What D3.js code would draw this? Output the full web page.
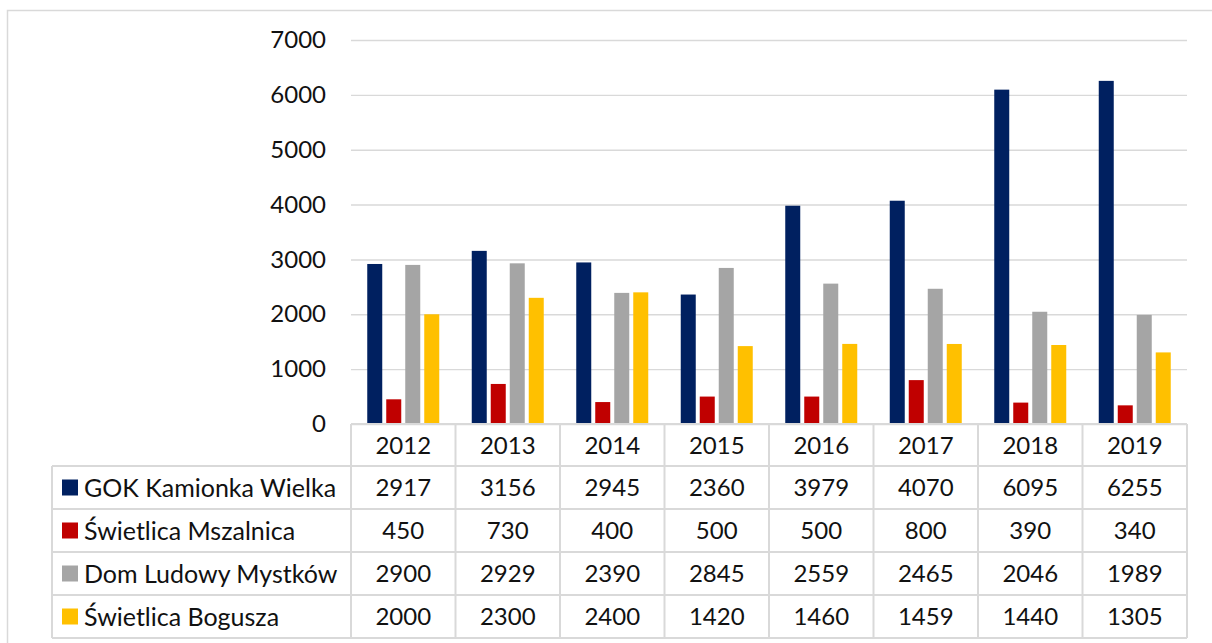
<!DOCTYPE html>
<html>
<head>
<meta charset="utf-8">
<script src="https://cdn.jsdelivr.net/npm/d3@7"></script>
<style>
  body { margin: 0; background: #fff; }
  svg { display: block; font-family: Lato, "Open Sans", sans-serif; }
</style>
</head>
<body>
<div id="chart"></div>
<script>
const years = ['2012', '2013', '2014', '2015', '2016', '2017', '2018', '2019'];
const seriesNames = ['GOK Kamionka Wielka', 'Świetlica Mszalnica', 'Dom Ludowy Mystków', 'Świetlica Bogusza'];
const seriesColors = ['#002060', '#c00000', '#a5a5a5', '#ffc000'];
const gokValues = [2917, 3156, 2945, 2360, 3979, 4070, 6095, 6255];
const mszalnicaValues = [450, 730, 400, 500, 500, 800, 390, 340];
const mystkowValues = [2900, 2929, 2390, 2845, 2559, 2465, 2046, 1989];
const boguszaValues = [2000, 2300, 2400, 1420, 1460, 1459, 1440, 1305];
const yTicks = [0, 1000, 2000, 3000, 4000, 5000, 6000, 7000];

const allValues = [gokValues, mszalnicaValues, mystkowValues, boguszaValues];

const W = 1212, H = 643;
const plotLeft = 351, plotRight = 1187, plotTop = 40, plotBottom = 424;
const tableLeft = 52, headerH = 42, rowH = 43;
const gridColor = '#d9d9d9';

const svg = d3.select('#chart').append('svg')
  .attr('width', W)
  .attr('height', H);

// outer chart frame
svg.append('rect')
  .attr('x', 7.5).attr('y', 10.5)
  .attr('width', W + 20).attr('height', H + 20)
  .attr('fill', 'none')
  .attr('stroke', gridColor)
  .attr('stroke-width', 1.5);

const x = d3.scaleBand().domain(years).range([plotLeft, plotRight]);
const groupW = 72;
const x1 = d3.scaleBand()
  .domain(d3.range(seriesNames.length))
  .range([0, groupW])
  .paddingInner(4 / 19);
const y = d3.scaleLinear().domain([0, 7000]).range([plotBottom, plotTop]);

// gridlines + y axis labels
const yAxis = d3.axisLeft(y)
  .tickValues(yTicks)
  .tickSize(-(plotRight - plotLeft))
  .tickPadding(25)
  .tickFormat(d3.format('d'));

const gy = svg.append('g')
  .attr('transform', `translate(${plotLeft},0)`)
  .call(yAxis);
gy.select('.domain').remove();
gy.selectAll('.tick line')
  .attr('stroke', gridColor)
  .attr('stroke-width', 1.4);
gy.selectAll('.tick text')
  .attr('fill', '#111')
  .attr('font-size', 24)
  .attr('font-family', 'Lato, "Open Sans", sans-serif');

// bars
const groups = svg.append('g').selectAll('g')
  .data(years)
  .enter()
  .append('g')
  .attr('transform', d => `translate(${x(d) + (x.bandwidth() - groupW) / 2},0)`);

groups.selectAll('rect')
  .data((d, i) => allValues.map((vals, s) => ({ s: s, v: vals[i] })))
  .enter()
  .append('rect')
  .attr('x', d => x1(d.s))
  .attr('width', x1.bandwidth())
  .attr('y', d => y(d.v))
  .attr('height', d => y(0) - y(d.v))
  .attr('fill', d => seriesColors[d.s]);

// data table
const table = svg.append('g').attr('class', 'table');
const rowTop = i => plotBottom + headerH + i * rowH;
const tableBottom = rowTop(seriesNames.length);

// horizontal lines
table.append('line')
  .attr('x1', plotLeft).attr('x2', plotRight)
  .attr('y1', plotBottom).attr('y2', plotBottom);
d3.range(seriesNames.length + 1).forEach(i => {
  table.append('line')
    .attr('x1', tableLeft).attr('x2', plotRight)
    .attr('y1', rowTop(i)).attr('y2', rowTop(i));
});
// vertical lines
table.append('line')
  .attr('x1', tableLeft).attr('x2', tableLeft)
  .attr('y1', rowTop(0)).attr('y2', tableBottom);
years.forEach(yr => {
  table.append('line')
    .attr('x1', x(yr)).attr('x2', x(yr))
    .attr('y1', plotBottom).attr('y2', tableBottom);
});
table.append('line')
  .attr('x1', plotRight).attr('x2', plotRight)
  .attr('y1', plotBottom).attr('y2', tableBottom);
table.selectAll('line')
  .attr('stroke', gridColor)
  .attr('stroke-width', 2);

// header years
table.selectAll('text.year')
  .data(years)
  .enter()
  .append('text')
  .attr('class', 'year')
  .attr('x', d => x(d) + x.bandwidth() / 2)
  .attr('y', plotBottom + headerH / 2)
  .attr('dy', '0.36em')
  .attr('text-anchor', 'middle')
  .text(d => d);

// series rows
seriesNames.forEach((name, s) => {
  const cy = rowTop(s) + rowH / 2;
  table.append('rect')
    .attr('x', 62).attr('y', cy - 8)
    .attr('width', 16).attr('height', 16)
    .attr('fill', seriesColors[s]);
  table.append('text')
    .attr('class', 'name')
    .attr('x', 84)
    .attr('y', cy)
    .attr('dy', '0.36em')
    .text(name);
  table.selectAll('text.v' + s)
    .data(allValues[s])
    .enter()
    .append('text')
    .attr('class', 'v' + s)
    .attr('x', (d, i) => x(years[i]) + x.bandwidth() / 2)
    .attr('y', cy)
    .attr('dy', '0.36em')
    .attr('text-anchor', 'middle')
    .text(d => d);
});

table.selectAll('text')
  .attr('fill', '#111')
  .attr('font-size', 24);
table.selectAll('text.name')
  .attr('font-size', 25);
</script>
</body>
</html>
